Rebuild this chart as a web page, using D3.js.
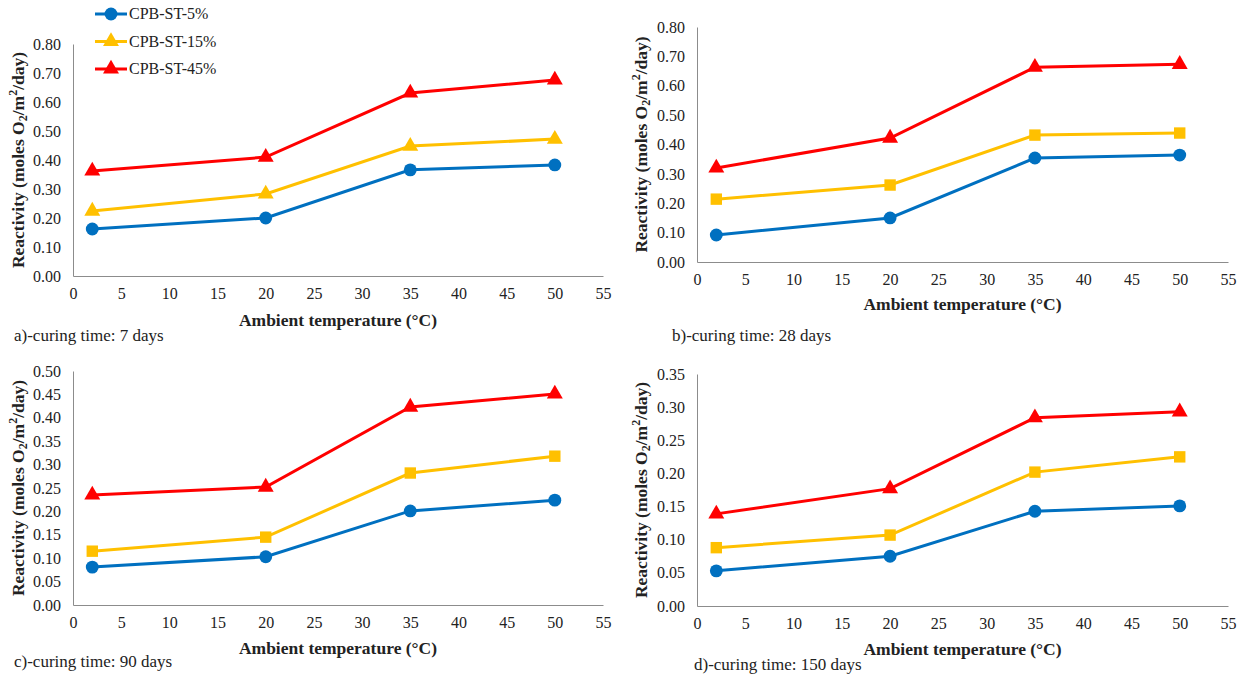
<!DOCTYPE html>
<html>
<head>
<meta charset="utf-8">
<script src="https://cdn.jsdelivr.net/npm/d3@7"></script>
<style>
  body { margin: 0; background: #fff; }
  text { font-family: "Liberation Serif", "Times New Roman", Times, serif; fill: #222; }
</style>
</head>
<body>
<div id="chart"></div>
<script>
const temps = [2, 20, 35, 50];
const seriesNames = ["CPB-ST-5%", "CPB-ST-15%", "CPB-ST-45%"];
const xTicks = [0, 5, 10, 15, 20, 25, 30, 35, 40, 45, 50, 55];

// reactivity per curing time, one array per series
const day7 = [
  [0.162, 0.200, 0.366, 0.383],
  [0.224, 0.283, 0.448, 0.472],
  [0.362, 0.410, 0.631, 0.676]
];
const day28 = [
  [0.092, 0.150, 0.354, 0.364],
  [0.214, 0.262, 0.432, 0.439],
  [0.320, 0.422, 0.663, 0.673]
];
const day90 = [
  [0.081, 0.103, 0.201, 0.224],
  [0.115, 0.145, 0.282, 0.318],
  [0.235, 0.252, 0.423, 0.451]
];
const day150 = [
  [0.053, 0.075, 0.143, 0.151],
  [0.088, 0.107, 0.202, 0.225],
  [0.139, 0.177, 0.284, 0.293]
];
const captions = ["a)-curing time: 7 days", "b)-curing time: 28 days",
                  "c)-curing time: 90 days", "d)-curing time: 150 days"];
const yMaxes = [0.8, 0.8, 0.5, 0.35];
const ySteps = [0.1, 0.1, 0.05, 0.05];

const colors = ["#0070C0", "#FFC000", "#FF0000"];
const width = 1245, height = 676;

const svg = d3.select("#chart").append("svg")
  .attr("width", width)
  .attr("height", height);

// panel frames: plot area in pixels
const panels = [
  { x0: 73, x1: 603, y0: 44, y1: 276, data: day7, mid: "triangle", cap: [14, 341], titleX: 20, axTitleY: 326 },
  { x0: 697, x1: 1228, y0: 27, y1: 262, data: day28, mid: "square", cap: [672, 341], titleX: 643, axTitleY: 310 },
  { x0: 73, x1: 603, y0: 371, y1: 605, data: day90, mid: "square", cap: [14, 667], titleX: 20, axTitleY: 654 },
  { x0: 697, x1: 1228, y0: 374, y1: 606, data: day150, mid: "square", cap: [694, 670], titleX: 643, axTitleY: 655 }
];

function symbolFor(i, mid) {
  if (i === 0) return d3.symbol().type(d3.symbolCircle).size(130)();
  if (i === 1 && mid === "square") return d3.symbol().type(d3.symbolSquare).size(130)();
  return d3.symbol().type(d3.symbolTriangle).size(110)();
}

panels.forEach((p, k) => {
  const x = d3.scaleLinear().domain([0, 55]).range([p.x0, p.x1]);
  const y = d3.scaleLinear().domain([0, yMaxes[k]]).range([p.y1, p.y0]);
  const g = svg.append("g");

  const yTicks = d3.range(0, yMaxes[k] + ySteps[k] / 2, ySteps[k]);

  const xAxis = g.append("g")
    .attr("transform", `translate(0,${p.y1})`)
    .call(d3.axisBottom(x).tickValues(xTicks).tickSize(0).tickPadding(12));
  const yAxis = g.append("g")
    .attr("transform", `translate(${p.x0},0)`)
    .call(d3.axisLeft(y).tickValues(yTicks).tickSize(0).tickPadding(12).tickFormat(d3.format(".2f")));

  [xAxis, yAxis].forEach(a => {
    a.attr("font-family", null).attr("font-size", null);
    a.select(".domain").attr("stroke", "#8c8c8c").attr("stroke-width", 1);
    a.selectAll("text").style("font-size", "16px").attr("fill", "#222");
  });

  // lines and markers
  p.data.forEach((vals, i) => {
    const pts = temps.map((t, j) => [t, vals[j]]);
    g.append("path")
      .datum(pts)
      .attr("fill", "none")
      .attr("stroke", colors[i])
      .attr("stroke-width", 3)
      .attr("d", d3.line().x(d => x(d[0])).y(d => y(d[1])));
    g.selectAll(null)
      .data(pts)
      .join("path")
      .attr("d", symbolFor(i, p.mid))
      .attr("transform", d => `translate(${x(d[0])},${y(d[1])})`)
      .attr("fill", colors[i]);
  });

  // axis titles
  g.append("text")
    .attr("x", (p.x0 + p.x1) / 2)
    .attr("y", p.axTitleY)
    .attr("text-anchor", "middle")
    .style("font-size", "17.5px")
    .style("font-weight", "bold")
    .text("Ambient temperature (°C)");

  const yt = g.append("text")
    .attr("transform", `translate(${p.titleX},${(p.y0 + p.y1) / 2}) rotate(-90)`)
    .attr("text-anchor", "middle")
    .attr("dominant-baseline", "middle")
    .style("font-size", "17.5px")
    .style("font-weight", "bold");
  yt.append("tspan").text("Reactivity (moles O");
  yt.append("tspan").attr("dy", 4).style("font-size", "12px").text("2");
  yt.append("tspan").attr("dy", -4).text("/m");
  yt.append("tspan").attr("dy", -6).style("font-size", "12px").text("2");
  yt.append("tspan").attr("dy", 6).text("/day)");

  g.append("text")
    .attr("x", p.cap[0])
    .attr("y", p.cap[1])
    .style("font-size", "17px")
    .text(captions[k]);
});

// legend (panel a)
const legend = svg.append("g");
seriesNames.forEach((name, i) => {
  const ly = 14 + i * 27.5;
  legend.append("line")
    .attr("x1", 95).attr("x2", 127)
    .attr("y1", ly).attr("y2", ly)
    .attr("stroke", colors[i]).attr("stroke-width", 3);
  legend.append("path")
    .attr("d", symbolFor(i, "triangle"))
    .attr("transform", `translate(111,${ly})`)
    .attr("fill", colors[i]);
  legend.append("text")
    .attr("x", 129)
    .attr("y", ly + 5)
    .style("font-size", "16px")
    .text(name);
});
</script>
</body>
</html>
